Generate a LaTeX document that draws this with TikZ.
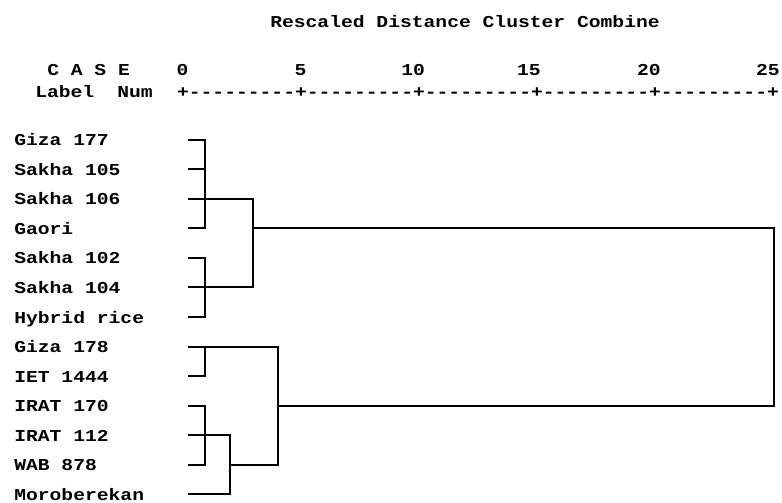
\documentclass[tikz,border=0pt]{standalone}
\usepackage{fontspec}
\usepackage{tikz}
\newfontfamily\spssfont[FakeStretch=1.18]{Liberation Mono}

\tikzset{
  txt/.style={anchor=base west, inner sep=0pt, font=\spssfont\bfseries\fontsize{12.5}{14}\selectfont},
  num/.style={txt, anchor=base east},
  tree/.style={line width=1.5pt, line cap=rect}
}

\begin{document}
\begin{tikzpicture}[x=0.75pt,y=0.75pt,yscale=-1,xscale=1]
%set diagram left start at 0, and has height of 503
\useasboundingbox (0,0) rectangle (782,503);

% Text Node
\node [txt] (title) at (270,28) {Rescaled Distance Cluster Combine};
% Text Node
\node [txt] (case) at (47,75.5) {C A S E};
% Text Node
\node [txt] (label) at (35,97.5) {Label};
% Text Node
\node [txt] (num) at (117,97.5) {Num};
% Text Node
\node [txt] (axis) at (176.8,97.5) {+---------+---------+---------+---------+---------+};
% Text Node
\node [num] (t0) at (188.6,75.5) {0};
\node [num] (t5) at (306.6,75.5) {5};
\node [num] (t10) at (425.2,75.5) {10};
\node [num] (t15) at (541,75.5) {15};
\node [num] (t20) at (661,75.5) {20};
\node [num] (t25) at (780,75.5) {25};

% Text Node
\node [txt] (giza177) at (14,145.7) {Giza 177};
\node [txt] (sakha105) at (14,175.2) {Sakha 105};
\node [txt] (sakha106) at (14,204.8) {Sakha 106};
\node [txt] (gaori) at (14,234.3) {Gaori};
\node [txt] (sakha102) at (14,263.9) {Sakha 102};
\node [txt] (sakha104) at (14,293.4) {Sakha 104};
\node [txt] (hybrid) at (14,323) {Hybrid rice};
\node [txt] (giza178) at (14,352.5) {Giza 178};
\node [txt] (iet1444) at (14,382.1) {IET 1444};
\node [txt] (irat170) at (14,411.6) {IRAT 170};
\node [txt] (irat112) at (14,441.2) {IRAT 112};
\node [txt] (wab878) at (14,470.7) {WAB 878};
\node [txt] (morob) at (14,500.3) {Moroberekan};

% leaf ends
\coordinate (a0) at (189,139.7);
\coordinate (a1) at (189,169.25);
\coordinate (a2) at (189,198.8);
\coordinate (a3) at (189,228.35);
\coordinate (a4) at (189,257.9);
\coordinate (a5) at (189,287.45);
\coordinate (a6) at (189,317);
\coordinate (a7) at (189,346.55);
\coordinate (a8) at (189,376.1);
\coordinate (a9) at (189,405.65);
\coordinate (a10) at (189,435.2);
\coordinate (a11) at (189,464.75);
\coordinate (a12) at (189,494.3);

% joins
\coordinate (j1) at (205,198.8);
\coordinate (j2) at (205,287.45);
\coordinate (j3) at (205,346.55);
\coordinate (j4) at (205,435.2);
\coordinate (j5) at (229.5,464.75);
\coordinate (k1) at (253.3,228.35);
\coordinate (k2) at (277.5,405.65);
\coordinate (root) at (774,300);

%Straight Lines
\draw [tree] (a0) -| (j1) |- (a3);
\draw [tree] (a1) -- (a1 -| j1);
\draw [tree] (a2) -- (j1);
%Straight Lines
\draw [tree] (a4) -| (j2) |- (a6);
\draw [tree] (a5) -- (j2);
%Straight Lines
\draw [tree] (j1) -| (k1) |- (j2);
%Straight Lines
\draw [tree] (a7) -- (j3);
\draw [tree] (a8) -| (j3);
%Straight Lines
\draw [tree] (a9) -| (j4) |- (a11);
\draw [tree] (a10) -- (j4) -| (j5) |- (a12);
%Straight Lines
\draw [tree] (j3) -| (k2) |- (j5);
%Straight Lines
\draw [tree] (k1) -| (root) |- (k2);

\end{tikzpicture}
\end{document}
